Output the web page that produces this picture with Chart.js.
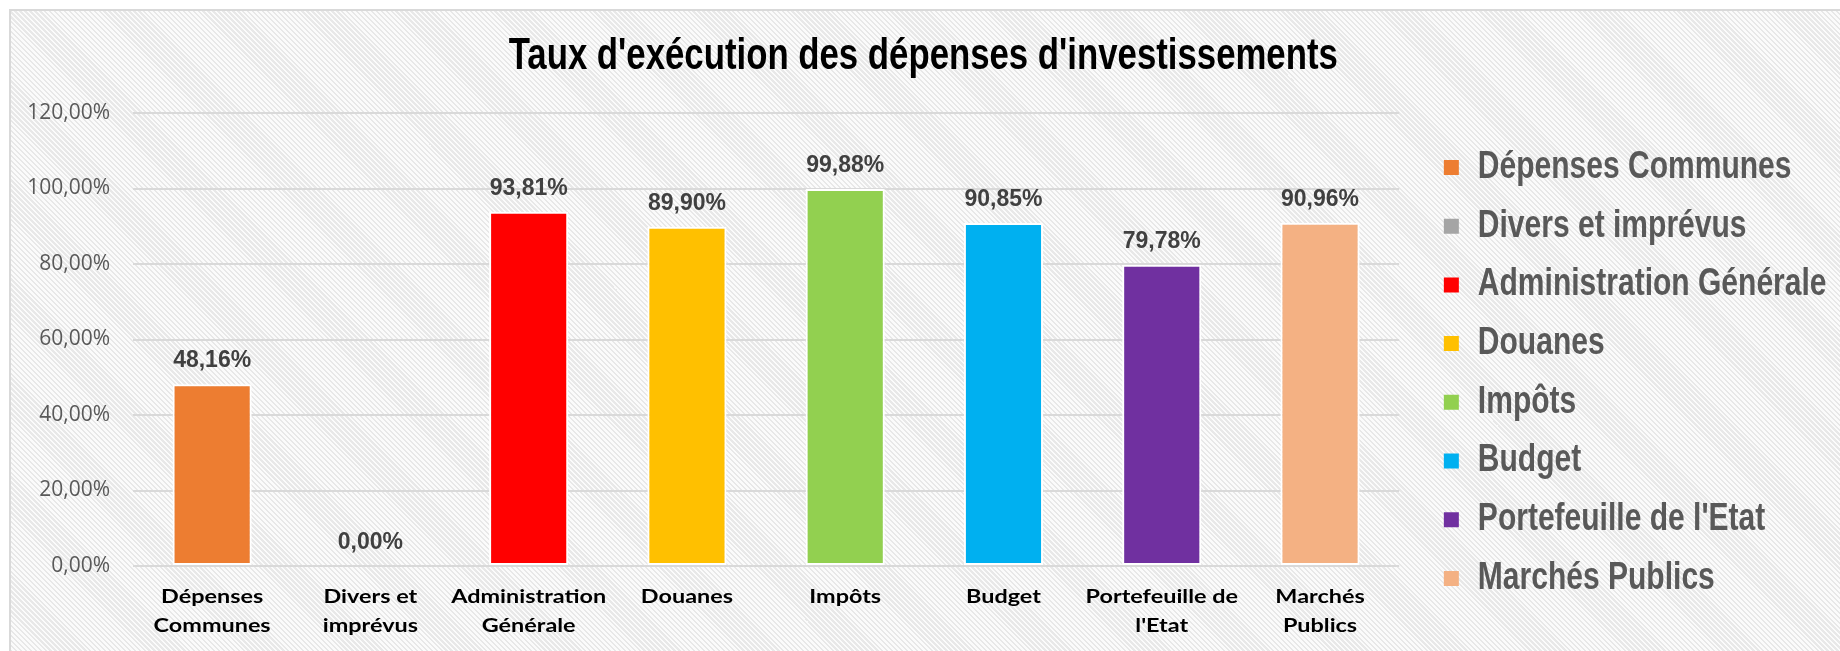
<!DOCTYPE html>
<html lang="fr">
<head>
  <meta charset="UTF-8">
  <title>Taux d'exécution des dépenses d'investissements</title>
  <script src="https://cdn.jsdelivr.net/npm/chart.js"></script>
  <style>
    html, body { margin: 0; padding: 0; background: #fff; overflow: hidden; }
    #wrap { position: relative; width: 1840px; height: 651px; }
    #bg {
      position: absolute; left: 9px; top: 9px; right: -20px; bottom: -20px;
      border: 2px solid #d9d9d9;
      background: repeating-linear-gradient(45deg, #fbfbfb 0 1.8px, #e8e8e8 1.8px 3.5px);
    }
    #myChart { position: absolute; left: 0; top: 0; }
  </style>
</head>
<body>
  <div id="wrap">
    <div id="bg"></div>
    <canvas id="myChart" width="1840" height="651"></canvas>
  </div>
  <script>
    // categories (legend names) and the x-axis tick labels
    const categories = ['Dépenses Communes', 'Divers et imprévus', 'Administration Générale', 'Douanes',
      'Impôts', 'Budget', "Portefeuille de l'Etat", 'Marchés Publics'];
    const tickLabels = [['Dépenses', 'Communes'], ['Divers et', 'imprévus'], ['Administration', 'Générale'],
      'Douanes', 'Impôts', 'Budget', ['Portefeuille de', "l'Etat"], ['Marchés', 'Publics']];
    // taux d'exécution en %
    const rates = [48.16, 0.00, 93.81, 89.90, 99.88, 90.85, 79.78, 90.96];
    const barColors = ['#ED7D31', '#A5A5A5', '#FF0000', '#FFC000', '#92D050', '#00B0F0', '#7030A0', '#F4B183'];
    const yTicks = { min: 0, max: 120, step: 20 };

    const pct = v => v.toFixed(2).replace('.', ',') + '%';

    // the original text is narrower / wider than any installed font,
    // so fonts tagged "sqzNNN" get scaled horizontally by NNN/100
    function stretchText(c) {
      const measure = c.measureText.bind(c);
      const fill = c.fillText.bind(c);
      const factor = () => {
        const m = /sqz(\d+)/.exec(c.font);
        return m ? Number(m[1]) / 100 : 1;
      };
      c.measureText = t => {
        const m = measure(t);
        const f = factor();
        return f === 1 ? m : { width: m.width * f };
      };
      c.fillText = (t, x, y, w) => {
        const f = factor();
        if (f === 1) return w === undefined ? fill(t, x, y) : fill(t, x, y, w);
        c.save();
        c.translate(x, y);
        c.scale(f, 1);
        fill(t, 0, 0);
        c.restore();
      };
    }
    const narrowFont = '"Liberation Sans", Arial, sqz79';
    const wideFont = 'Lato, sans-serif, sqz130';

    // value labels above the bars
    const valueLabels = {
      id: 'valueLabels',
      afterDatasetsDraw(chart) {
        const c = chart.ctx;
        c.save();
        c.font = 'bold 23px "Liberation Sans", Arial, sans-serif';
        c.fillStyle = '#404040';
        c.textAlign = 'center';
        c.textBaseline = 'alphabetic';
        chart.getDatasetMeta(0).data.forEach((bar, i) => {
          c.fillText(pct(rates[i]), bar.x, bar.y - 17);
        });
        c.restore();
      }
    };

    const ctx = document.getElementById('myChart').getContext('2d');
    stretchText(ctx);

    new Chart(ctx, {
      type: 'bar',
      data: {
        labels: tickLabels,
        datasets: [{
          label: 'Taux',
          data: rates,
          backgroundColor: barColors,
          borderColor: '#ffffff',
          borderWidth: 2,
          borderSkipped: false,
          barPercentage: 0.5,
          categoryPercentage: 1.0
        }]
      },
      options: {
        responsive: false,
        animation: false,
        devicePixelRatio: 1,
        layout: { padding: { top: 12, left: 10, right: 3.5, bottom: 10 } },
        plugins: {
          tooltip: { enabled: false },
          title: {
            display: true,
            text: "Taux d'exécution des dépenses d'investissements",
            color: '#000',
            font: { family: narrowFont, size: 44, weight: 'bold', lineHeight: 1.2 },
            padding: { top: 18.1, bottom: 30.1 }
          },
          legend: {
            position: 'right',
            align: 'start',
            // empty title only used to push the list down
            title: { display: true, text: '', font: { size: 10, lineHeight: 1 }, padding: { top: 105.8, bottom: 0 } },
            labels: {
              color: '#595959',
              font: { family: narrowFont, size: 38, weight: 'bold' },
              boxWidth: 15,
              boxHeight: 15,
              padding: 20.7,
              generateLabels: () => categories.map((name, i) => ({
                text: name,
                fillStyle: barColors[i],
                strokeStyle: barColors[i],
                lineWidth: 0,
                fontColor: '#595959',
                hidden: false,
                index: i
              }))
            }
          }
        },
        scales: {
          x: {
            grid: { display: false, drawTicks: false },
            border: { display: false },
            ticks: {
              color: '#000',
              padding: 16.4,
              maxRotation: 0,
              autoSkip: false,
              font: { family: wideFont, size: 18, weight: 'bold', lineHeight: '29.3px' }
            },
            afterFit: s => { s.height = 75; }
          },
          y: {
            min: yTicks.min,
            max: yTicks.max,
            grid: { color: '#d9d9d9', lineWidth: 2, drawTicks: false },
            border: { display: false },
            ticks: {
              stepSize: yTicks.step,
              color: '#595959',
              padding: 23,
              font: { family: '"Open Sans", sans-serif', size: 21 },
              callback: v => pct(v)
            },
            afterFit: s => { s.width = 123; }
          },
          // hidden axis, keeps a gap between the plot and the legend
          gap: {
            type: 'linear',
            position: 'right',
            display: false,
            afterFit: s => { s.width = 24; }
          }
        }
      },
      plugins: [valueLabels]
    });
  </script>
</body>
</html>
